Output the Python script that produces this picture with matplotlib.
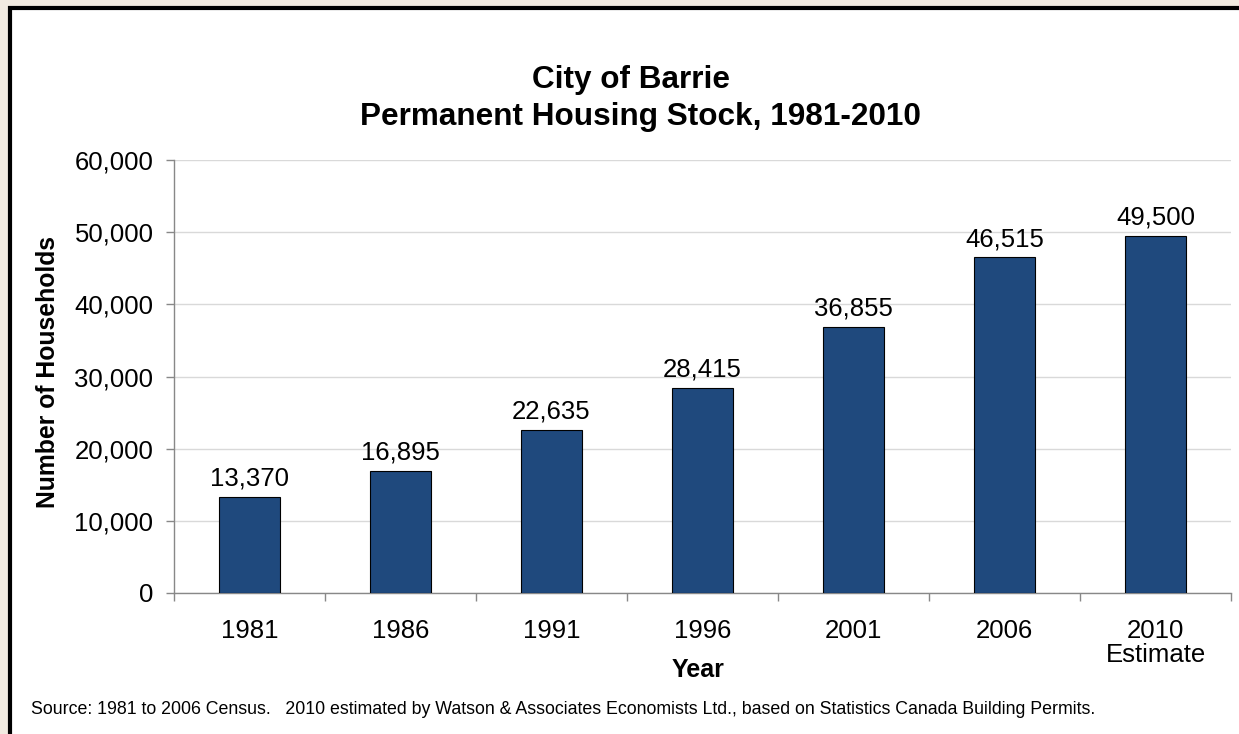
import matplotlib
matplotlib.use("Agg")
import matplotlib.pyplot as plt
from matplotlib.patches import Rectangle
from matplotlib.ticker import FuncFormatter, FixedLocator

plt.rcParams['font.family'] = ['Liberation Sans', 'DejaVu Sans']

# data
years = ["1981", "1986", "1991", "1996", "2001", "2006", "2010\nEstimate"]
households = [13370, 16895, 22635, 28415, 36855, 46515, 49500]

W, H = 1239, 734
fig = plt.figure(figsize=(W/100, H/100), dpi=100)
fig.patch.set_facecolor("#F2EBE1")

# white panel with black frame (right/bottom edges cropped off)
frame = Rectangle((10/W, -0.05), 1.1, 1 - 8/H + 0.05, transform=fig.transFigure,
                  facecolor="white", edgecolor="black", linewidth=3, zorder=-10)
fig.patches.append(frame)

ax = fig.add_axes([174/W, (H-593)/H, (1231-174)/W, (593-160)/H])
ax.set_facecolor("none")

xs = list(range(len(years)))
bars = ax.bar(xs, households, width=0.4, color="#1F497D", edgecolor="black",
              linewidth=0.8, zorder=3)

for x, v in zip(xs, households):
    ax.annotate(f"{v:,}", (x, v), xytext=(0, 8), textcoords="offset points",
                ha="center", va="baseline", fontsize=18.5, color="black")

ax.set_xlim(-0.5, len(years) - 0.5)
ax.set_ylim(0, 60000)
ax.set_yticks(range(0, 60001, 10000))
ax.yaxis.set_major_formatter(FuncFormatter(lambda v, p: f"{int(v):,}"))
ax.grid(axis="y", color="#D9D9D9", linewidth=1, zorder=0)

ax.set_xticks(xs)
ax.set_xticklabels(years, fontsize=18.5, linespacing=1.0)
ax.tick_params(axis="x", which="major", length=0, pad=19)
ax.xaxis.set_minor_locator(FixedLocator([i - 0.5 for i in range(len(years) + 1)]))
ax.tick_params(axis="x", which="minor", length=5.5, color="#888888", width=1)
ax.tick_params(axis="y", length=5.8, color="#888888", width=1, labelsize=18.5, pad=9)

for s in ["top", "right"]:
    ax.spines[s].set_visible(False)
for s in ["left", "bottom"]:
    ax.spines[s].set_color("#888888")
    ax.spines[s].set_linewidth(1)

# axis titles placed by hand
fig.text(698/W, 1 - 670/H, "Year", ha="center", va="center",
         fontsize=18, fontweight="bold")
fig.text(48/W, 1 - 372/H, "Number of Households", ha="center", va="center",
         rotation=90, fontsize=17.8, fontweight="bold")

# two-line title, each line centred as in the original
fig.text(631/W, 1 - 88/H, "City of Barrie", ha="center", va="baseline",
         fontsize=22.7, fontweight="bold")
fig.text(640/W, 1 - 125/H, "Permanent Housing Stock, 1981-2010", ha="center",
         va="baseline", fontsize=22.7, fontweight="bold")

fig.text(31/W, 1 - 709/H,
         "Source: 1981 to 2006 Census.   2010 estimated by Watson & Associates Economists Ltd., "
         "based on Statistics Canada Building Permits.",
         ha="left", va="center", fontsize=12.8)

fig.savefig("out.png", dpi=100, facecolor=fig.get_facecolor())
